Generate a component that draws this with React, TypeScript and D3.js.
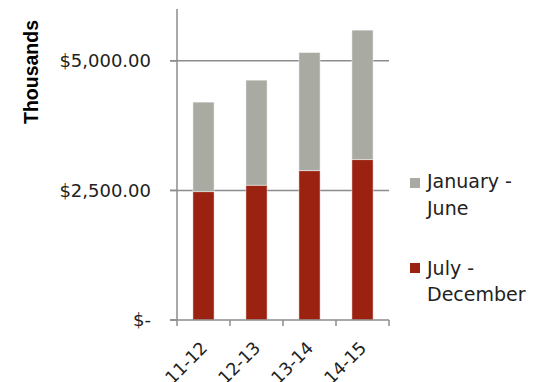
import React from "react";
import * as d3 from "d3";

const categories = ["11-12", "12-13", "13-14", "14-15"];
const julyDecember = [2477, 2600, 2882, 3095];
const januaryJune = [1726, 2027, 2278, 2497];
const yTicks = [0, 2500, 5000];
const seriesNames = ["January - June", "July - December"];
const seriesColors = ["#A9ABA3", "#9B2210"];

const W = 554;
const H = 382;
const FONT = "'DejaVu Sans', 'Liberation Sans', sans-serif";

export default function App() {
  const x = d3
    .scaleBand<string>()
    .domain(categories)
    .range([177, 389])
    .paddingInner(0.6)
    .paddingOuter(0.3);
  const y = d3.scaleLinear().domain([0, 6000]).range([320, 9]);

  const rows = categories.map((c, i) => ({
    cat: c,
    jd: julyDecember[i],
    jj: januaryJune[i],
  }));
  const stack = d3.stack<any>().keys(["jd", "jj"])(rows);
  const fills: Record<string, string> = { jd: seriesColors[1], jj: seriesColors[0] };

  const step = x.step();
  const boundaries = d3.range(categories.length + 1).map((i) => 177 + i * step);
  const axisColor = "#8C8C8C";

  const legendSplit = seriesNames.map((n) => {
    const parts = n.split(" - ");
    return [parts[0] + " -", parts[1]];
  });

  return (
    <svg
      width={W}
      height={H}
      style={{ position: "absolute", left: 0, top: 0, background: "#fff" }}
      fontFamily={FONT}
    >
      {/* gridlines */}
      {yTicks
        .filter((t) => t > 0)
        .map((t) => (
          <line key={t} x1={170} x2={389} y1={y(t)} y2={y(t)} stroke={axisColor} strokeWidth={1.5} />
        ))}

      {/* stacked bars */}
      {stack.map((layer) =>
        layer.map((d, i) => (
          <rect
            key={layer.key + i}
            x={x(categories[i])}
            width={x.bandwidth()}
            y={y(d[1])}
            height={y(d[0]) - y(d[1])}
            fill={fills[layer.key]}
            stroke="#ffffff"
            strokeOpacity={0.45}
            strokeWidth={1}
          />
        ))
      )}

      {/* y axis */}
      <line x1={177} x2={177} y1={y(6000)} y2={y(0)} stroke={axisColor} strokeWidth={1.5} />
      {yTicks.map((t) => (
        <g key={t}>
          <line x1={170} x2={177} y1={y(t)} y2={y(t)} stroke={axisColor} strokeWidth={1.5} />
          <text
            x={151}
            y={y(t)}
            dy="0.36em"
            textAnchor="end"
            fontSize={18}
            fill="#222"
          >
            {t === 0 ? "$-" : "$" + d3.format(",.2f")(t)}
          </text>
        </g>
      ))}

      {/* x axis */}
      <line x1={170} x2={389} y1={y(0)} y2={y(0)} stroke={axisColor} strokeWidth={1.5} />
      {boundaries.map((bx, i) => (
        <line key={i} x1={bx} x2={bx} y1={y(0)} y2={y(0) + 6} stroke={axisColor} strokeWidth={1.5} />
      ))}
      {categories.map((c) => {
        const cx = (x(c) as number) + x.bandwidth() / 2 + 5;
        const cy = 349;
        return (
          <text
            key={c}
            x={cx}
            y={cy}
            textAnchor="end"
            fontSize={17.5}
            fill="#222"
            transform={`rotate(-45 ${cx} ${cy})`}
          >
            {c}
          </text>
        );
      })}

      {/* axis title */}
      <text
        transform="translate(38 72) rotate(-90)"
        textAnchor="middle"
        fontFamily="'Liberation Sans', Arial, sans-serif"
        fontWeight="bold"
        fontSize={19.5}
        fill="#000"
      >
        Thousands
      </text>

      {/* legend */}
      <rect x={410} y={178} width={10} height={10} fill={seriesColors[0]} />
      <text x={427} y={188} fontSize={19} fill="#222">
        <tspan x={427}>{legendSplit[0][0]}</tspan>
        <tspan x={427} dy={27}>{legendSplit[0][1]}</tspan>
      </text>
      <rect x={410} y={263} width={10} height={10} fill={seriesColors[1]} />
      <text x={427} y={275} fontSize={19} fill="#222">
        <tspan x={427}>{legendSplit[1][0]}</tspan>
        <tspan x={427} dy={26}>{legendSplit[1][1]}</tspan>
      </text>
    </svg>
  );
}
